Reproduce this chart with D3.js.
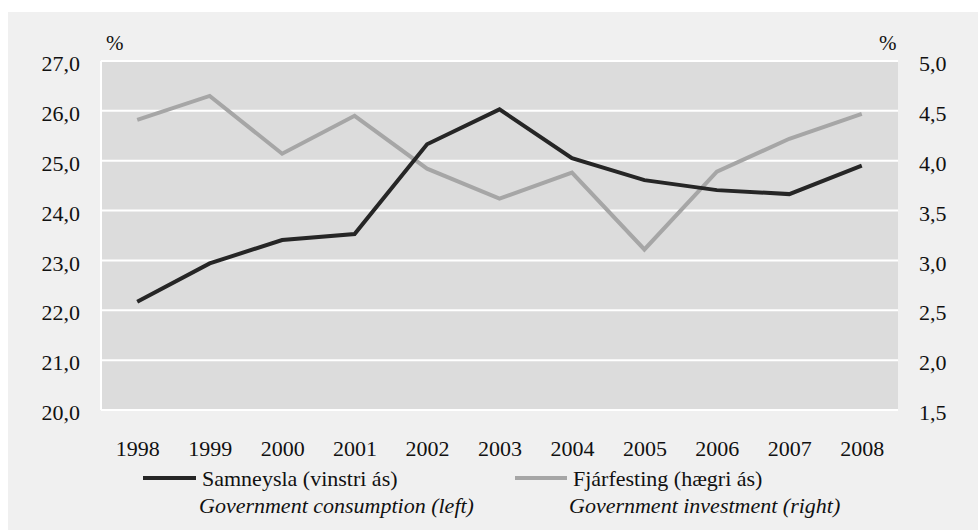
<!DOCTYPE html>
<html><head><meta charset="utf-8">
<script src="https://cdn.jsdelivr.net/npm/d3@7"></script>
<style>body{margin:0;background:#fff} svg text{font-family:"Liberation Serif" !important;}</style>
</head><body><svg id="c" width="978" height="531" font-family="Liberation Serif"></svg>
<script>
const years = ["1998","1999","2000","2001","2002","2003","2004","2005","2006","2007","2008"];
const consumption = [22.17,22.94,23.41,23.53,25.33,26.03,25.05,24.61,24.41,24.33,24.90];
const investment = [4.41,4.65,4.07,4.45,3.92,3.62,3.88,3.11,3.89,4.22,4.47];
const leftTicks = [20,21,22,23,24,25,26,27];
const rightTicks = [1.5,2.0,2.5,3.0,3.5,4.0,4.5,5.0];
const legendLabels = ["Samneysla (vinstri ás)","Fjárfesting (hægri ás)"];
const legendSub = ["Government consumption (left)","Government investment (right)"];

const svg = d3.select("#c");
const m = {l:101, r:898, t:61, b:410};
svg.append("rect").attr("x",8).attr("y",12).attr("width",970).attr("height",518).attr("fill","#f0f0f0");
svg.append("rect").attr("x",m.l).attr("y",m.t).attr("width",m.r-m.l).attr("height",m.b-m.t).attr("fill","#dcdcdc");

const x = d3.scalePoint().domain(years).range([m.l,m.r]).padding(0.5);
const yL = d3.scaleLinear().domain([20,27]).range([m.b,m.t]);
const yR = d3.scaleLinear().domain([1.5,5.0]).range([m.b,m.t]);
const fmt = v => d3.format(".1f")(v).replace(".",",");

svg.append("g").selectAll("line").data(leftTicks).join("line")
  .attr("x1",m.l).attr("x2",m.r).attr("y1",d=>yL(d)).attr("y2",d=>yL(d))
  .attr("stroke","#fff").attr("stroke-width",2);
svg.append("line").attr("x1",m.l).attr("x2",m.l).attr("y1",m.t).attr("y2",m.b).attr("stroke","#fff").attr("stroke-width",2);

const axL = svg.append("g").attr("transform",`translate(${m.l},0)`).call(d3.axisLeft(yL).tickValues(leftTicks).tickFormat(fmt).tickSize(0).tickPadding(21));
const axR = svg.append("g").attr("transform",`translate(${m.r},0)`).call(d3.axisRight(yR).tickValues(rightTicks).tickFormat(fmt).tickSize(0).tickPadding(21));
const axB = svg.append("g").attr("transform",`translate(0,${m.b})`).call(d3.axisBottom(x).tickSize(0).tickPadding(30));
[axL,axR,axB].forEach(a=>{a.attr("font-family","Liberation Serif").attr("font-size",22);a.select(".domain").remove();a.selectAll("text").attr("fill","#111");});
axL.selectAll("text").attr("dy","0.44em");
axR.selectAll("text").attr("dy","0.44em");

function txt(xp,yp,s,italic){
  return svg.append("text").attr("x",xp).attr("y",yp).attr("font-family","Liberation Serif").attr("font-size",22)
    .attr("font-style",italic?"italic":"normal").attr("fill","#111").text(s);
}
txt(106,50,"%").attr("font-size",21);
txt(879,50,"%").attr("font-size",21);

const lineL = d3.line().x((d,i)=>x(years[i])).y(d=>yL(d));
const lineR = d3.line().x((d,i)=>x(years[i])).y(d=>yR(d));
svg.append("path").datum(investment).attr("d",lineR).attr("fill","none").attr("stroke","#a6a6a6").attr("stroke-width",4);
svg.append("path").datum(consumption).attr("d",lineL).attr("fill","none").attr("stroke","#262626").attr("stroke-width",4);

const leg = [{x1:143,x2:196,tx:202,sx:199,c:"#262626"},{x1:515,x2:567,tx:573,sx:569,c:"#a6a6a6"}];
leg.forEach((g,i)=>{
  svg.append("line").attr("x1",g.x1).attr("x2",g.x2).attr("y1",478).attr("y2",478).attr("stroke",g.c).attr("stroke-width",4);
  txt(g.tx,486,legendLabels[i]);
  txt(g.sx,513,legendSub[i],true);
});
</script></body></html>
